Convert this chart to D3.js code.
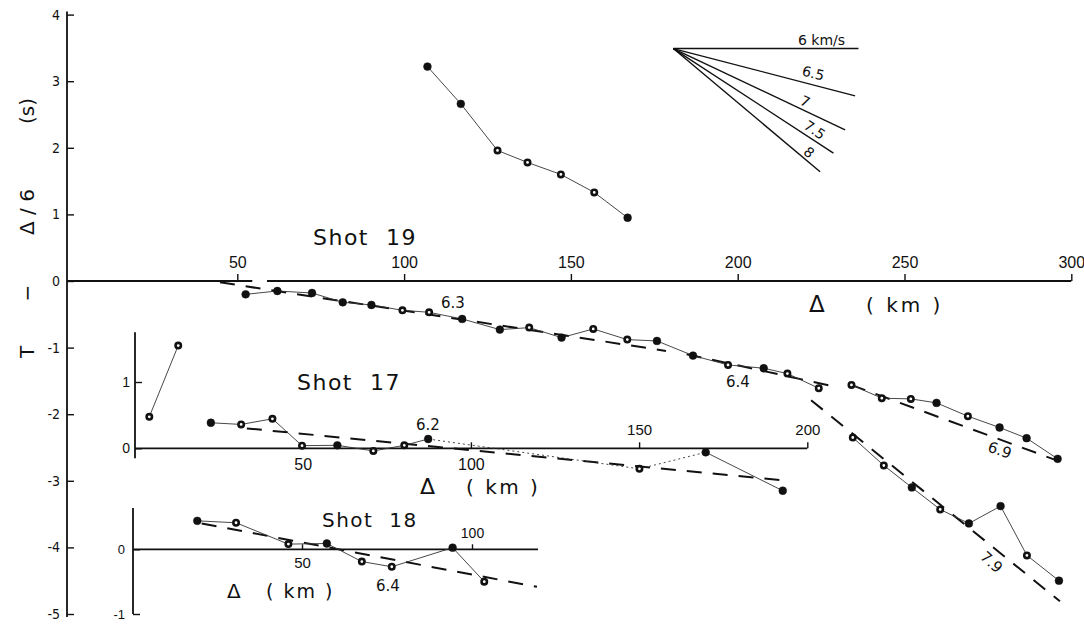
<!DOCTYPE html>
<html><head><meta charset="utf-8">
<script src="https://cdn.jsdelivr.net/npm/d3@7"></script>
<style>
html,body{margin:0;padding:0;background:#fff;}
svg{display:block;font-family:"DejaVu Sans",sans-serif;}
text{white-space:pre;fill:#111;}
</style></head><body>
<svg id="c" width="1084" height="628"></svg>
<script>
// ---------------- DATA ----------------
// main axes (Shot 19)
const mainXTicks = [50, 100, 150, 200, 250, 300];
const mainYTicks = [-5, -4, -3, -2, -1, 0, 1, 2, 3, 4];

// Shot 19, early (upper) branch
const s19UpKm   = [107, 117, 128, 137, 147, 157, 167];
const s19UpT    = [3.22, 2.66, 1.96, 1.78, 1.60, 1.33, 0.95];
const s19UpMark = ['f','f','o','o','o','o','f'];

// Shot 19, main branch
const s19Km   = [52.5, 62, 72.4, 81.6, 90.2, 99.5, 107.5, 117.4, 128.7, 137.5, 147.2, 156.7, 166.9, 175.8, 186.6, 197.1, 207.8, 214.9, 224.3,
                 234.1, 243.2, 251.9, 259.6, 269.0, 278.5, 286.6, 295.9];
const s19T    = [-0.20, -0.15, -0.18, -0.32, -0.36, -0.44, -0.47, -0.57, -0.73, -0.70, -0.85, -0.72, -0.88, -0.90, -1.12, -1.26, -1.31, -1.39, -1.61,
                 -1.56, -1.76, -1.77, -1.83, -2.03, -2.20, -2.36, -2.67];
const s19Mark = ['f','f','f','f','f','o','o','f','f','o','f','o','o','f','f','o','f','o','o',
                 'o','o','o','f','o','f','f','f'];
const s19Group = [0,0,0,0,0,0,0,0,0,0,0,0,0,0,0,0,0,0,0, 1,1,1,1,1,1,1,1];

// Shot 19, late (lower) branch
const s19LowKm   = [234.5, 243.8, 252.2, 260.7, 269.3, 278.8, 286.7, 296.3];
const s19LowT    = [-2.35, -2.77, -3.10, -3.43, -3.64, -3.38, -4.12, -4.50];
const s19LowMark = ['o','o','f','o','f','f','o','f'];

// Shot 19 fitted velocity lines (km/s): end points
const fit19Vel = ['6.3', '6.4', '6.9', '7.9'];
const fit19Km0 = [44.8, 184.7, 234.0, 222.0];
const fit19T0  = [-0.02, -1.10, -1.56, -1.79];
const fit19Km1 = [178.5, 228.6, 296.0, 296.6];
const fit19T1  = [-1.05, -1.58, -2.70, -4.81];

// Shot 17 inset
const s17XTicks = [50, 100, 150, 200];
const s17YTicks = [0, 1];
const s17Km   = [4.4, 13.0, 22.7, 31.7, 41.0, 49.8, 60.3, 71.0, 80.2, 87.3, 150.1, 169.8, 192.7];
const s17T    = [0.475, 1.55, 0.385, 0.36, 0.445, 0.04, 0.045, -0.04, 0.045, 0.14, -0.31, -0.06, -0.64];
const s17Mark = ['o','o','f','o','o','o','f','o','o','f','o','f','f'];
const s17Link = ['line','none','line','line','line','line','line','line','line','dot','dot','line'];
const fit17Vel = ['6.2'];
const fit17Km0 = [33.4], fit17T0 = [0.30], fit17Km1 = [193.9], fit17T1 = [-0.49];

// Shot 18 inset
const s18XTicks = [50, 100];
const s18YTicks = [-1, 0];
const s18Km   = [19.2, 30.6, 46.0, 57.3, 67.6, 76.4, 94.3, 103.6];
const s18T    = [0.44, 0.41, 0.08, 0.09, -0.19, -0.27, 0.025, -0.50];
const s18Mark = ['f','o','o','f','o','o','f','o'];
const fit18Vel = ['6.4'];
const fit18Km0 = [20.5], fit18T0 = [0.40], fit18Km1 = [119.1], fit18T1 = [-0.58];

// velocity fan (reference slopes)
const fanLabel = ['6 km/s', '6.5', '7', '7.5', '8'];
const fanApexKm = 180.7, fanApexT = 3.49;
const fanEndKm = [236.2, 235.2, 232.2, 228.7, 224.7];
const fanEndT  = [3.49, 2.78, 2.27, 1.92, 1.64];

// ---------------- DRAWING ----------------
const svg = d3.select('#c');
const fmt = d => (d < 0 ? '-' + Math.abs(d) : String(d));

const x = d3.scaleLinear().domain([0, 300]).range([70.5, 1071.3]);
const y = d3.scaleLinear().domain([-5, 4]).range([614, 14.6]);
const x17 = d3.scaleLinear().domain([0, 200]).range([134.5, 807.3]);
const y17 = d3.scaleLinear().domain([0, 1]).range([448.3, 382]);
const x18 = d3.scaleLinear().domain([0, 100]).range([132, 472]);
const y18 = d3.scaleLinear().domain([-1, 0]).range([614, 549.3]);

const AX = 1.8;
function styleAxis(g, size) {
  g.selectAll('.domain').remove();
  g.selectAll('.tick line').attr('stroke', '#111').attr('stroke-width', 1.4);
  g.selectAll('.tick text').attr('font-size', size).attr('fill', '#111');
}
function hline(x1, x2, yy) {
  svg.append('line').attr('x1', x1).attr('x2', x2).attr('y1', yy).attr('y2', yy)
    .attr('stroke', '#111').attr('stroke-width', AX);
}
function vline(xx, y1, y2) {
  svg.append('line').attr('x1', xx).attr('x2', xx).attr('y1', y1).attr('y2', y2)
    .attr('stroke', '#111').attr('stroke-width', AX);
}
function txt(s, xx, yy, size, opt = {}) {
  const t = svg.append('text').attr('x', xx).attr('y', yy).attr('font-size', size)
    .attr('text-anchor', opt.anchor || 'start').text(s);
  if (opt.ls) t.attr('letter-spacing', opt.ls);
  if (opt.rot) t.attr('transform', `rotate(${opt.rot},${xx},${yy})`);
  if (opt.family) t.attr('font-family', opt.family);
  return t;
}

// ---- main axes ----
const yAxisX = 67;
const gy = svg.append('g').attr('transform', `translate(${yAxisX},0)`)
  .call(d3.axisLeft(y).tickValues(mainYTicks).tickSizeInner(-7).tickSizeOuter(0).tickPadding(7).tickFormat(fmt));
styleAxis(gy, 14);
gy.selectAll('.tick text').attr('font-family', '"DejaVu Sans Condensed","DejaVu Sans",sans-serif');
vline(yAxisX, y(4) - 3, y(-5) + 3);

const gx = svg.append('g').attr('transform', `translate(0,${y(0)})`)
  .call(d3.axisTop(x).tickValues(mainXTicks).tickSize(7).tickPadding(6).tickFormat(fmt));
styleAxis(gx, 16);
hline(yAxisX, x(54.5), y(0));
hline(x(58.9), x(300), y(0));

// y title
[['(s)', 111], ['Δ / 6', 212], ['−', 293], ['T', 352]].forEach(([s, yc]) => {
  svg.append('text').attr('transform', `translate(34,${yc}) rotate(-90)`)
    .attr('text-anchor', 'middle').attr('font-size', 20).text(s);
});

txt('Shot  19', 313, 245, 22, { ls: 1.5 });
txt('Δ', 809, 312, 23);
txt('( km )', 866, 312, 20, { ls: 3 });

// ---- shot 17 inset axes ----
vline(135, y17(1.75), y17(-0.15));
hline(135, x17(200), y17(0));
const g17y = svg.append('g').attr('transform', 'translate(135,0)')
  .call(d3.axisLeft(y17).tickValues(s17YTicks).tickSizeInner(-7).tickSizeOuter(0).tickPadding(5).tickFormat(fmt));
styleAxis(g17y, 14);
const g17x = svg.append('g').attr('transform', `translate(0,${y17(0)})`)
  .call(d3.axisTop(x17).tickValues(s17XTicks).tickSize(6).tickPadding(7).tickFormat(d => d >= 150 ? fmt(d) : ''));
styleAxis(g17x, 15);
const g17xb = svg.append('g').attr('transform', `translate(0,${y17(0)})`)
  .call(d3.axisBottom(x17).tickValues(s17XTicks.filter(d => d < 150)).tickSize(0).tickPadding(10).tickFormat(fmt));
styleAxis(g17xb, 16);
txt('Shot  17', 297, 390, 22, { ls: 1.5 });
txt('Δ', 420, 494, 22);
txt('( km )', 466, 494, 20, { ls: 2.5 });

// ---- shot 18 inset axes ----
vline(133, y18(0.64), y18(-1));
hline(133, 538, y18(0));
const g18y = svg.append('g').attr('transform', 'translate(133,0)')
  .call(d3.axisLeft(y18).tickValues(s18YTicks).tickSizeInner(-7).tickSizeOuter(0).tickPadding(8).tickFormat(fmt));
styleAxis(g18y, 13);
const g18x = svg.append('g').attr('transform', `translate(0,${y18(0)})`)
  .call(d3.axisTop(x18).tickValues(s18XTicks).tickSize(5).tickPadding(6).tickFormat(d => d >= 100 ? fmt(d) : ''));
styleAxis(g18x, 14);
const g18xb = svg.append('g').attr('transform', `translate(0,${y18(0)})`)
  .call(d3.axisBottom(x18).tickValues(s18XTicks.filter(d => d < 100)).tickSize(0).tickPadding(8).tickFormat(fmt));
styleAxis(g18xb, 15);
txt('Shot  18', 322, 527, 20, { ls: 1.5 });
txt('Δ', 227, 598, 20);
txt('( km )', 266, 598, 19, { ls: 2 });

// ---- fitted dashed velocity lines ----
function fitLines(vel, k0, t0, k1, t1, xs, ys) {
  vel.forEach((v, i) => {
    svg.append('line').attr('x1', xs(k0[i])).attr('y1', ys(t0[i]))
      .attr('x2', xs(k1[i])).attr('y2', ys(t1[i]))
      .attr('stroke', '#111').attr('stroke-width', 2).attr('stroke-dasharray', '15,11');
  });
}
fitLines(fit19Vel, fit19Km0, fit19T0, fit19Km1, fit19T1, x, y);
fitLines(fit17Vel, fit17Km0, fit17T0, fit17Km1, fit17T1, x17, y17);
fitLines(fit18Vel, fit18Km0, fit18T0, fit18Km1, fit18T1, x18, y18);

txt(fit19Vel[0], 453, 308, 15, { anchor: 'middle' });
txt(fit19Vel[1], 738, 387, 15, { anchor: 'middle' });
txt(fit19Vel[2], 998, 455, 15, { anchor: 'middle', rot: 20 });
txt(fit19Vel[3], 988, 566, 15, { anchor: 'middle', rot: 42 });
txt(fit17Vel[0], 428, 430, 15, { anchor: 'middle' });
txt(fit18Vel[0], 388, 591, 15, { anchor: 'middle' });

// ---- connecting lines ----
const conn = (xs, ys) => d3.line().x(d => xs(d.km)).y(d => ys(d.t));
function pts(km, t, mark) { return km.map((k, i) => ({ km: k, t: t[i], m: mark[i] })); }
function polyline(p, xs, ys, dash) {
  const path = svg.append('path').datum(p).attr('d', conn(xs, ys)).attr('fill', 'none')
    .attr('stroke', '#333').attr('stroke-width', 0.9);
  if (dash) path.attr('stroke-dasharray', dash);
}

const p19Up = pts(s19UpKm, s19UpT, s19UpMark);
const p19 = pts(s19Km, s19T, s19Mark);
const p19Low = pts(s19LowKm, s19LowT, s19LowMark);
const p17 = pts(s17Km, s17T, s17Mark);
const p18 = pts(s18Km, s18T, s18Mark);

polyline(p19Up, x, y);
d3.groups(p19.map((d, i) => ({ ...d, g: s19Group[i] })), d => d.g).forEach(([, arr]) => polyline(arr, x, y));
polyline(p19Low, x, y);
polyline(p18, x18, y18);
s17Link.forEach((l, i) => {
  if (l === 'none') return;
  polyline([p17[i], p17[i + 1]], x17, y17, l === 'dot' ? '2,3' : null);
});

// ---- markers ----
function marks(p, xs, ys) {
  svg.append('g').selectAll('circle').data(p).join('circle')
    .attr('cx', d => xs(d.km)).attr('cy', d => ys(d.t))
    .attr('r', d => d.m === 'f' ? 3.9 : 2.7)
    .attr('fill', d => d.m === 'f' ? '#111' : '#fff')
    .attr('stroke', '#111').attr('stroke-width', d => d.m === 'f' ? 0.5 : 2.6);
}
marks(p19Up, x, y);
marks(p19, x, y);
marks(p19Low, x, y);
marks(p17, x17, y17);
marks(p18, x18, y18);

// ---- velocity fan ----
fanLabel.forEach((lab, i) => {
  svg.append('line').attr('x1', x(fanApexKm)).attr('y1', y(fanApexT))
    .attr('x2', x(fanEndKm[i])).attr('y2', y(fanEndT[i]))
    .attr('stroke', '#111').attr('stroke-width', 1.4);
});
txt(fanLabel[0], 798, 45, 14);
txt(fanLabel[1], 812, 78, 14, { anchor: 'middle', rot: 14 });
txt(fanLabel[2], 803, 106, 14, { anchor: 'middle', rot: 25 });
txt(fanLabel[3], 812, 134, 14, { anchor: 'middle', rot: 34 });
txt(fanLabel[4], 806, 156, 14, { anchor: 'middle', rot: 40 });
</script>
</body></html>
